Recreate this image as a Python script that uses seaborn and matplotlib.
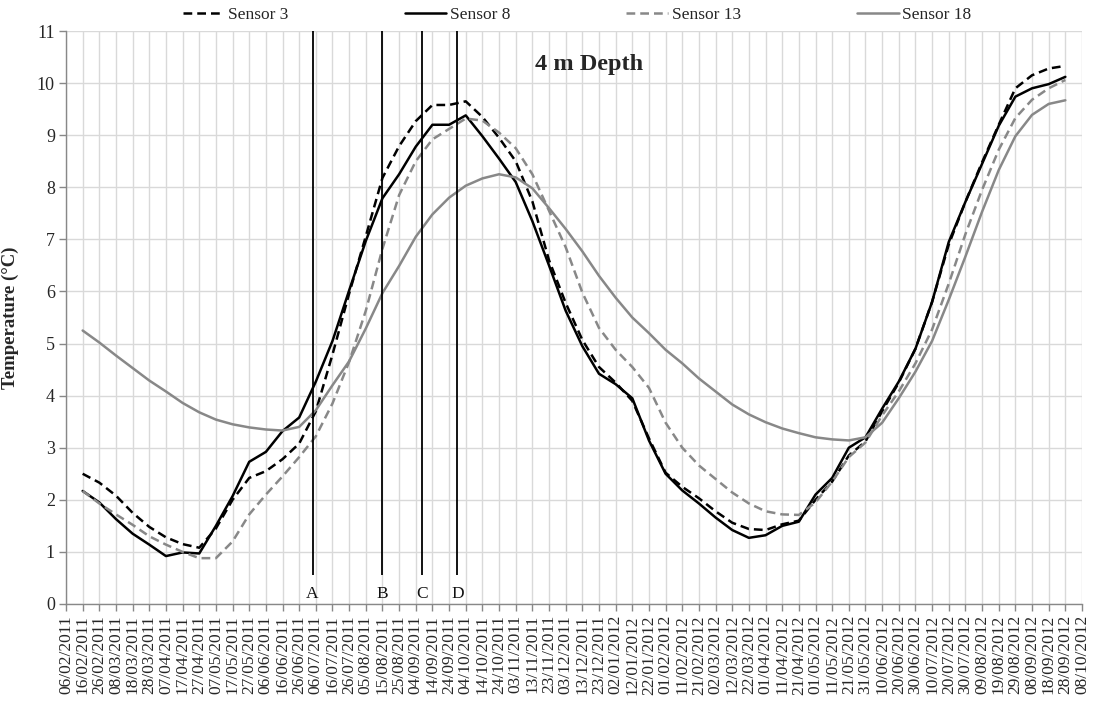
import matplotlib
matplotlib.use("Agg")
import matplotlib.pyplot as plt
import matplotlib.dates as mdates
from matplotlib.lines import Line2D
import pandas as pd
import seaborn as sns

# Axis extent and sampling of the logger records (one value every 10 days)
first_tick = "2011-02-06"
last_tick = "2012-10-08"
sample_start = "2011-02-16"
step = "10D"

# Temperature (°C) at 4 m depth
sensor_3 = [2.50, 2.33, 2.08, 1.75, 1.48, 1.28, 1.15, 1.08, 1.45, 2.00,
            2.42, 2.55, 2.78, 3.08, 3.70, 4.79, 5.96, 7.06, 8.18, 8.79,
            9.27, 9.58, 9.58, 9.65, 9.35, 8.95, 8.50, 7.73, 6.60, 5.78,
            5.07, 4.55, 4.25, 3.90, 3.18, 2.52, 2.25, 2.03, 1.78, 1.56,
            1.44, 1.42, 1.53, 1.60, 2.00, 2.35, 2.85, 3.12, 3.70, 4.25,
            4.90, 5.80, 6.90, 7.72, 8.48, 9.20, 9.90, 10.15, 10.28, 10.33]
sensor_8 = [2.17, 1.95, 1.63, 1.35, 1.14, 0.92, 0.99, 0.97, 1.50, 2.07,
            2.73, 2.92, 3.32, 3.58, 4.27, 5.05, 6.02, 6.97, 7.79, 8.25,
            8.78, 9.20, 9.20, 9.38, 8.98, 8.55, 8.10, 7.35, 6.50, 5.63,
            4.95, 4.42, 4.22, 3.95, 3.14, 2.50, 2.18, 1.93, 1.66, 1.42,
            1.27, 1.32, 1.50, 1.58, 2.10, 2.42, 3.00, 3.20, 3.75, 4.27,
            4.90, 5.80, 6.95, 7.72, 8.45, 9.18, 9.74, 9.90, 9.98, 10.12]
sensor_13 = [2.17, 1.93, 1.72, 1.52, 1.30, 1.14, 1.00, 0.88, 0.88, 1.20,
             1.72, 2.10, 2.45, 2.82, 3.22, 3.85, 4.65, 5.63, 6.82, 7.85,
             8.50, 8.92, 9.12, 9.32, 9.28, 9.05, 8.75, 8.25, 7.55, 6.85,
             5.98, 5.30, 4.88, 4.55, 4.15, 3.48, 3.00, 2.66, 2.40, 2.14,
             1.93, 1.78, 1.72, 1.71, 1.95, 2.35, 2.82, 3.10, 3.62, 4.08,
             4.62, 5.27, 6.15, 7.10, 7.95, 8.72, 9.33, 9.68, 9.90, 10.06]
sensor_18 = [5.25, 5.02, 4.77, 4.53, 4.29, 4.08, 3.86, 3.68, 3.54, 3.45,
             3.39, 3.35, 3.33, 3.40, 3.72, 4.20, 4.66, 5.29, 5.97, 6.49,
             7.05, 7.48, 7.80, 8.03, 8.17, 8.25, 8.19, 7.98, 7.60, 7.20,
             6.77, 6.30, 5.88, 5.50, 5.20, 4.88, 4.62, 4.33, 4.08, 3.83,
             3.64, 3.49, 3.37, 3.28, 3.20, 3.16, 3.14, 3.20, 3.48, 3.95,
             4.46, 5.05, 5.84, 6.67, 7.53, 8.33, 8.98, 9.39, 9.60, 9.67]

sensor_names = ["Sensor 3", "Sensor 8", "Sensor 13", "Sensor 18"]
event_labels = ["A", "B", "C", "D"]
event_dates = ["2011-07-04", "2011-08-15", "2011-09-08", "2011-09-29"]

dates = pd.date_range(sample_start, periods=len(sensor_3), freq=step)
frames = []
for name, vals in zip(sensor_names, [sensor_3, sensor_8, sensor_13, sensor_18]):
    frames.append(pd.DataFrame({"Date": dates, "Temperature": vals, "Sensor": name}))
df = pd.concat(frames, ignore_index=True)

sns.set_theme(style="whitegrid")
plt.rcParams["font.family"] = ["Liberation Serif", "DejaVu Serif"]
plt.rcParams["axes.edgecolor"] = "#888888"
plt.rcParams["grid.color"] = "#d9d9d9"

colors = {"Sensor 3": "black", "Sensor 8": "black",
          "Sensor 13": "#888888", "Sensor 18": "#888888"}
dash_map = {"Sensor 3": (3.5, 2), "Sensor 8": "",
            "Sensor 13": (3.5, 2), "Sensor 18": ""}

fig = plt.figure(figsize=(10.94, 7.07), dpi=100)
ax = fig.add_axes([66 / 1094, 1 - 604 / 707, 1016 / 1094, 573 / 707])

sns.lineplot(data=df, x="Date", y="Temperature", hue="Sensor", style="Sensor",
             palette=colors, dashes=dash_map, linewidth=1.8, legend=False, ax=ax)

# Event markers
ev = pd.to_datetime(event_dates)
ax.vlines(ev, 0.56, 11, color="black", linewidth=1.3, zorder=5)
for lab, d in zip(event_labels, ev):
    ax.text(d, 0.2, lab, ha="center", va="center", fontsize=12.5, color="#111111")

ticks = pd.date_range(first_tick, last_tick, freq=step)
ax.set_xlim(pd.Timestamp(first_tick), pd.Timestamp(last_tick))
ax.set_xticks(ticks)
ax.xaxis.set_major_formatter(mdates.DateFormatter("%d/%m/%Y"))
ax.set_ylim(0, 11)
ax.set_yticks(range(0, 12))

ax.grid(True, color="#d9d9d9", linewidth=1.0)
for side in ["top", "right"]:
    ax.spines[side].set_visible(False)
for side in ["left", "bottom"]:
    ax.spines[side].set_color("#888888")
    ax.spines[side].set_linewidth(1.0)

ax.tick_params(axis="x", rotation=90, labelsize=12.5, length=5, width=1,
               color="#888888", direction="out", bottom=True, pad=3)
ax.tick_params(axis="y", labelsize=13, length=5, width=1,
               color="#888888", direction="out", left=True, pad=3)
for lbl in ax.get_xticklabels():
    lbl.set_verticalalignment("top")

ax.set_xlabel("")
ax.set_ylabel("Temperature (°C)", fontsize=13.5, fontweight="bold")
ax.yaxis.set_label_coords(-0.046, 0.5)

ax.text(0.515, 0.942, "4 m Depth", transform=ax.transAxes, ha="center",
        va="center", fontsize=17.5, fontweight="bold")

handles = [Line2D([], [], color=colors[n], linewidth=1.8,
                  linestyle=(0, dash_map[n]) if dash_map[n] else "-")
           for n in sensor_names]
fig.legend(handles, sensor_names, loc="center", bbox_to_anchor=(577 / 1094, 1 - 15 / 707),
           ncol=4, frameon=False, fontsize=12.5, handlelength=2.4,
           handletextpad=0.2, columnspacing=6.7)

fig.savefig("out.png", dpi=100)
